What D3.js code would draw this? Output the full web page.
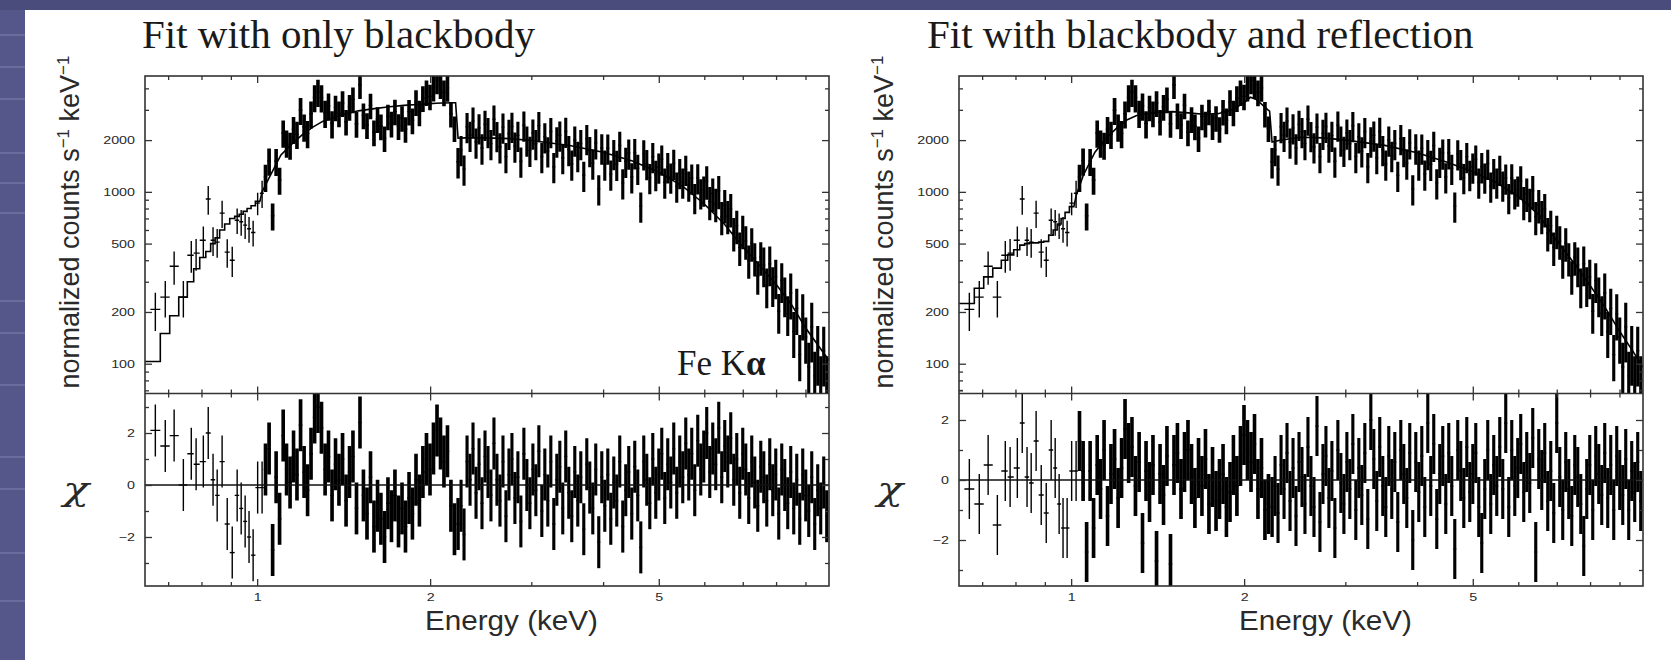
<!DOCTYPE html>
<html><head><meta charset="utf-8">
<script src="https://cdn.jsdelivr.net/npm/d3@7"></script>
<style>body{margin:0;background:#fff;}svg{display:block}</style>
</head><body>
<svg id="c" width="1671" height="660"></svg>
<script>
// ---------- data ----------
const energy = [
0.665,0.692,0.717,0.744,0.768,0.783,0.806,0.822,0.838,0.852,0.869,0.887,0.905,0.923,0.938,0.953,0.968,0.984,1.002,
1.020,1.034,1.049,1.064,1.079,1.094,1.110,1.125,1.141,1.157,1.173,1.190,1.207,1.224,1.241,1.259,1.276,1.294,1.313,1.331,
1.350,1.369,1.388,1.408,1.428,1.448,1.468,1.489,1.510,1.531,1.553,1.575,1.597,1.620,1.642,1.666,1.689,1.713,1.737,1.762,
1.787,1.812,1.838,1.863,1.890,1.916,1.943,1.971,1.999,2.027,2.056,2.085,2.114,2.144,2.174,2.205,
2.237,2.264,2.291,2.319,2.347,2.375,2.404,2.433,2.462,2.492,
2.522,2.552,2.583,2.614,2.646,2.678,2.710,2.743,2.776,2.809,
2.843,2.877,2.912,2.947,2.983,3.019,3.055,3.092,3.129,3.167,
3.205,3.244,3.283,3.323,3.363,3.403,3.444,3.486,3.528,3.571,
3.614,3.658,3.702,3.747,3.792,3.838,3.884,3.931,3.979,4.027,
4.076,4.125,4.175,4.225,4.276,4.328,4.380,4.433,4.487,4.541,
4.596,4.652,4.708,4.765,4.823,4.881,4.940,5.000,5.060,5.121,
5.183,5.246,5.309,5.373,5.438,5.504,5.571,5.638,5.706,5.775,
5.845,5.916,5.987,6.059,6.133,6.207,6.282,6.358,6.435,6.513,
6.592,6.671,6.752,6.834,6.916,7.000,7.085,7.170,7.257,7.345,
7.434,7.524,7.615,7.707,7.800,7.894,7.990,8.086,8.184,8.283,
8.383,8.484,8.587,8.691,8.796,8.902,9.010,9.119,9.229,9.340,
9.453,9.567,9.683,9.800];

const counts = [
207,244,369,244,428,440,523,908,523,510,752,446,400,684,670,640,610,580,860,
982,1219,1515,726,1507,1172,2201,1928,1873,2312,2165,2984,2387,2188,2845,3538,3804,3532,2870,3163,
2496,3101,2864,3288,2559,3125,3454,2490,4182,2787,2447,3185,2220,2652,2407,2053,2749,2499,2936,2416,
2693,2322,2928,2610,3329,2901,3515,3803,3593,4048,4451,4185,3793,4029,2851,2346,
1497,1759,1355,2394,2134,2579,1949,2357,1800,2468,
2243,1908,2646,2126,1829,2379,1602,2187,2401,1847,
2132,1508,2442,2000,1742,2199,1906,2429,1606,2090,
1730,2243,1401,1977,2136,1580,2246,1762,1451,2003,
1628,1910,1248,2041,1738,1471,1928,1041,1800,1448,
1795,1269,1669,1446,1862,1127,1507,1682,1221,1689,
1372,826,1664,1459,1210,1604,1262,1394,1550,1138,
1400,1219,1465,1080,1293,1138,1352,1093,1204,925,
1208,986,1024,1155,875,979,853,1015,716,839,
726,796,577,636,475,595,517,400,503,412,
323,417,376,284,382,289,320,202,305,252,
196,258,154,210,113,195,143,96,164,85,
120,80,119,80];

const errPct = [
25,24,22,24,21,21,20,19,19,19,18,19,20,17,17,17,17,17,15,
18,18,18,18,18,18,18,18,18,18,
18,18,18,18,18,18,18,18,18,18,
18,17,17,17,17,17,17,17,17,17,
17,17,17,17,17,17,17,17,17,17,
17,17,17,17,17,17,17,17,17,17,
17,17,17,17,17,17,
20,20,20,20,20,20,20,20,20,20,
20,20,20,20,20,20,20,20,20,20,
20,20,20,20,20,20,20,20,20,20,
20,20,20,20,20,20,20,20,20,20,
20,20,20,20,20,20,20,20,20,20,
20,20,20,20,20,20,20,20,20,20,
20,20,20,20,20,20,20,20,20,20,
20,20,20,20,20,20,20,20,20,20,
20,20,20,22,22,22,22,22,22,22,
22,22,22,22,22,22,22,22,22,22,
22,22,26,26,26,26,26,26,26,26,
26,30,30,30,30,30,30,38,38,38,
38,38,38,38];

const chiBlackbody = [
2.1,1.5,1.9,0.0,1.2,0.8,0.9,2.0,0.2,-0.4,0.9,-1.5,-2.6,-0.4,-0.9,-1.4,-2.0,-2.7,-0.1,
-0.1,0.6,1.4,-2.5,0.3,-1.3,1.9,0.6,0.1,1.1,
0.4,2.3,0.5,-0.2,1.2,2.6,3.0,2.2,0.6,1.1,
-0.4,0.8,0.2,1.0,-0.6,0.5,1.1,-0.9,2.4,-0.4,
-1.1,0.3,-1.6,-0.8,-1.3,-2.0,-0.7,-1.2,-0.4,-1.4,
-0.9,-1.6,-0.5,-1.1,0.2,-0.6,0.5,1.0,0.6,1.4,
2.1,1.6,0.9,1.3,-0.8,-1.7,
-1.5,-0.8,-1.9,0.9,0.2,1.4,-0.3,0.8,-0.7,1.1,
0.5,-0.4,1.6,0.2,-0.6,0.9,-1.2,0.4,1.0,-0.5,
0.3,-1.4,1.2,0.0,-0.7,0.6,-0.2,1.3,-1.0,0.4,
-0.6,0.9,-1.5,0.2,0.7,-0.9,1.1,-0.3,-1.2,0.5,
-0.6,0.3,-1.7,0.8,-0.1,-0.9,0.6,-2.2,0.3,-0.8,
0.4,-1.3,0.1,-0.6,0.9,-1.6,-0.2,0.5,-1.1,0.7,
-0.4,-2.4,0.9,0.2,-0.7,1.0,-0.3,0.4,1.2,-0.5,
0.8,0.1,1.4,-0.3,0.9,0.3,1.6,0.4,1.2,-0.2,
1.7,0.6,1.1,2.0,0.5,1.4,0.8,2.2,0.3,1.5,
0.9,1.8,0.2,1.0,-0.3,1.2,0.6,-0.5,0.9,0.1,
-0.8,0.7,0.3,-0.6,0.8,-0.2,0.4,-1.1,0.6,0.0,
-0.7,0.5,-0.9,0.2,-1.3,0.4,-0.4,-1.0,0.3,-1.5,
-0.2,-0.9,0.1,-1.2];

const chiReflection = [
-0.3,-0.8,0.5,-1.5,0.3,0.1,0.4,1.9,0.1,-0.1,1.3,-0.5,-1.1,1.0,0.4,-0.8,-1.6,-1.6,0.3,
0.3,1.3,0.3,-2.4,0.3,-1.6,0.5,-0.3,1.0,-1.2,
0.2,0.7,-0.6,0.4,1.7,0.9,1.1,-0.2,0.6,-2.1,
0.3,-0.4,0.5,-2.7,0.2,-0.5,0.8,-2.8,0.5,0.9,
-0.3,0.6,1.0,0.2,-0.6,0.4,-0.2,0.7,-0.8,0.1,
-0.7,-0.3,0.2,-0.9,-0.4,0.5,-0.2,0.8,1.5,1.0,
0.6,1.2,-0.3,0.4,-1.0,-0.8,
-0.9,-0.2,-1.1,0.5,-0.3,0.9,-0.7,0.4,-1.2,0.6,
0.1,-0.8,1.1,-0.2,-0.9,1.8,-1.4,0.2,0.8,-0.6,
0.3,-1.6,1.0,-0.1,-0.8,0.6,-0.3,1.2,-1.0,0.4,
-0.5,0.9,-1.3,2.0,0.7,-0.7,1.1,-0.2,-0.9,0.8,
-0.3,0.6,-1.4,1.0,0.2,-0.6,0.9,-2.0,0.6,-0.4,
0.8,-0.9,1.9,-0.2,1.2,-1.3,0.2,0.8,-0.8,0.9,
-0.2,-2.3,1.0,0.3,-0.6,1.1,-0.4,0.2,0.9,-0.9,
-2.1,-0.3,1.0,-0.8,0.5,-0.2,1.1,-0.3,1.9,-0.9,
1.0,-0.2,0.4,1.2,-0.4,0.6,-0.1,1.4,-2.4,0.7,
0.0,0.9,-0.7,0.3,-1.1,1.9,0.1,-1.0,0.6,-0.3,
-1.2,0.5,0.1,-0.8,-2.2,-0.3,0.5,-1.0,0.8,0.2,
-0.5,0.9,-0.6,0.5,-1.0,0.8,0.0,-0.5,0.7,-1.0,
0.3,-0.4,0.6,-0.7];

const modelEnergy = [
0.665,0.692,0.717,0.744,0.768,0.783,0.806,0.822,0.838,0.852,0.869,0.887,0.905,0.923,0.938,0.953,0.968,0.984,1.002,
1.02,1.05,1.1,1.15,1.2,1.25,1.3,1.4,1.5,1.6,
1.7,1.8,1.9,2.0,2.05,2.1,2.2,2.215,2.237,2.3,
2.5,2.75,3.0,3.5,4.0,4.5,5.0,5.5,6.0,6.5,
7.0,7.5,8.0,8.5,9.0,9.5,9.9];
const stepBins = 19;   // the model is drawn as a histogram over the wide low-energy bins

const modelBlackbody = [
103,150,190,244,300,357,415,450,500,540,600,650,700,720,740,770,800,830,880,
1000,1215,1640,1900,2160,2380,2570,2800,2960,3050,
3125,3185,3225,3260,3278,3290,3300,3300,2050,2060,
2060,2040,1990,1860,1700,1510,1300,1080,850,650,
480,370,290,222,162,126,104];

const modelReflection = [
224,275,320,360,400,430,460,490,500,505,505,510,515,560,600,650,700,760,820,
950,1250,1700,2050,2350,2620,2780,2900,2930,2880,
2830,2850,2980,3300,3550,3450,3000,2950,1950,1990,
2080,2060,2000,1870,1690,1490,1310,1130,940,740,
520,385,285,212,155,118,95];

const countTicks = [100,200,500,1000,2000];
const countMinor = [70,80,90,300,400,600,700,800,900,3000,4000];
const energyTicks = [1,2,5];
const energyMinor = [0.7,0.8,0.9,3,4,6,7,8,9];
const chiTicks = [-2,0,2];
const chiMinor = [-3,-1,1,3];
const titles = ["Fit with only blackbody","Fit with blackbody and reflection"];

// ---------- layout ----------
const W = 684, TOP = 76, MID = 393.5, BOT = 586;
const svg = d3.select("#c");
const defs = svg.append("defs");

svg.append("rect").attr("width",1671).attr("height",660).attr("fill","#fff");
svg.append("rect").attr("x",0).attr("y",0).attr("width",25).attr("height",660).attr("fill","#55578b");
svg.append("rect").attr("x",0).attr("y",0).attr("width",1671).attr("height",10).attr("fill","#4a4c7c");
[34,66,98,152,182,212,300,332,384,456,488,552,600].forEach(yy=>{
  svg.append("rect").attr("x",0).attr("y",yy).attr("width",25).attr("height",2).attr("fill","#7375a6").attr("opacity",0.7);
});

const x = d3.scaleLog().domain([0.638, 9.89]).range([0, W]);
const yC = d3.scaleLog().domain([67.1, 4721]).range([MID, TOP]);

const n = energy.length;
const lo = energy.map((e,i)=> i>0 ? Math.sqrt(energy[i-1]*e) : e*e/Math.sqrt(e*energy[1]));
const hi = energy.map((e,i)=> i<n-1 ? Math.sqrt(e*energy[i+1]) : e*e/Math.sqrt(energy[i-1]*e));
// narrow bins merge into a solid band as in the original; wide bins stay thin crosses
const sw = energy.map((e,i)=> { const w = x(hi[i])-x(lo[i]); return w < 3.7 ? w*1.04 : 1.4; });
const idx = d3.range(n);

const FONT = "'Liberation Sans', Arial, Helvetica, sans-serif";
const SERIF = "'Liberation Serif', 'Times New Roman', serif";
const INK = "#2a2a2a";

function drawPanel(ox, title, titleDx, model, chi, chiDom, showFe) {
  const g = svg.append("g").attr("transform", `translate(${ox},0)`);
  const id = "p" + ox;
  defs.append("clipPath").attr("id", id+"u").append("rect").attr("x",0).attr("y",TOP).attr("width",W).attr("height",MID-TOP);
  defs.append("clipPath").attr("id", id+"l").append("rect").attr("x",0).attr("y",MID).attr("width",W).attr("height",BOT-MID);
  const yChi = d3.scaleLinear().domain(chiDom).range([BOT, MID]);

  // upper: data crosses
  const up = g.append("g").attr("clip-path", `url(#${id}u)`).attr("stroke","#000");
  up.selectAll("line.v").data(idx).join("line").attr("class","v")
    .attr("stroke-width", i=>sw[i])
    .attr("x1", i=>x(energy[i])).attr("x2", i=>x(energy[i]))
    .attr("y1", i=>yC(counts[i]*(1+errPct[i]/100))).attr("y2", i=>yC(Math.max(1,counts[i]*(1-errPct[i]/100))));
  up.selectAll("line.h").data(idx).join("line").attr("class","h")
    .attr("stroke-width", 1.4)
    .attr("x1", i=>x(lo[i])).attr("x2", i=>x(hi[i]))
    .attr("y1", i=>yC(counts[i])).attr("y2", i=>yC(counts[i]));
  // model
  const pts = [];
  for (let i=0;i<modelEnergy.length;i++){
    if (i<stepBins){
      const a = i===0 ? x.domain()[0] : Math.sqrt(modelEnergy[i-1]*modelEnergy[i]);
      const b = Math.sqrt(modelEnergy[i]*modelEnergy[i+1]);
      pts.push([a, model[i]], [b, model[i]]);
    } else pts.push([modelEnergy[i], model[i]]);
  }
  up.append("path").attr("d", d3.line().x(d=>x(d[0])).y(d=>yC(d[1]))(pts))
    .attr("fill","none").attr("stroke","#000").attr("stroke-width",1.6);

  // lower: residuals
  const lw = g.append("g").attr("clip-path", `url(#${id}l)`).attr("stroke","#000");
  lw.selectAll("line.v").data(idx).join("line").attr("class","v")
    .attr("stroke-width", i=>sw[i])
    .attr("x1", i=>x(energy[i])).attr("x2", i=>x(energy[i]))
    .attr("y1", i=>yChi(chi[i]+1)).attr("y2", i=>yChi(chi[i]-1));
  lw.selectAll("line.h").data(idx).join("line").attr("class","h")
    .attr("stroke-width", 1.4)
    .attr("x1", i=>x(lo[i])).attr("x2", i=>x(hi[i]))
    .attr("y1", i=>yChi(chi[i])).attr("y2", i=>yChi(chi[i]));
  g.append("line").attr("x1",0).attr("x2",W).attr("y1",yChi(0)).attr("y2",yChi(0)).attr("stroke","#111").attr("stroke-width",1.5);

  // axes (inside ticks on all sides)
  function axis(gen, tx, ty, vals, size, labels, pad) {
    const a = g.append("g").attr("transform",`translate(${tx},${ty})`)
      .call(gen.tickValues(vals).tickSize(size).tickPadding(pad||0)
        .tickFormat(labels ? d3.format("d") : ""));
    a.select(".domain").remove();
    a.selectAll("line").attr("stroke","#333").attr("stroke-width",1.3);
    a.attr("font-family", FONT).attr("font-size", 11);
    a.selectAll("text").attr("fill", INK).attr("transform","scale(1.3,1)");
    return a;
  }
  axis(d3.axisLeft(yC), 0, 0, countTicks, -7, true, 7.7);
  axis(d3.axisLeft(yC), 0, 0, countMinor, -4, false);
  axis(d3.axisRight(yC), W, 0, countTicks, -7, false);
  axis(d3.axisRight(yC), W, 0, countMinor, -4, false);
  axis(d3.axisTop(x), 0, TOP, energyTicks, -7, false);
  axis(d3.axisTop(x), 0, TOP, energyMinor, -4, false);
  axis(d3.axisBottom(x), 0, MID, energyTicks, -7, false);
  axis(d3.axisBottom(x), 0, MID, energyMinor, -4, false);
  axis(d3.axisLeft(yChi), 0, 0, chiTicks, -7, true, 7.7);
  axis(d3.axisLeft(yChi), 0, 0, chiMinor, -4, false);
  axis(d3.axisRight(yChi), W, 0, chiTicks, -7, false);
  axis(d3.axisRight(yChi), W, 0, chiMinor, -4, false);
  axis(d3.axisTop(x), 0, MID, energyTicks, -7, false);
  axis(d3.axisTop(x), 0, MID, energyMinor, -4, false);
  axis(d3.axisBottom(x), 0, BOT, energyTicks, -7, true, 7);
  axis(d3.axisBottom(x), 0, BOT, energyMinor, -4, false);

  // frame
  g.append("rect").attr("x",0).attr("y",TOP).attr("width",W).attr("height",BOT-TOP)
    .attr("fill","none").attr("stroke","#333").attr("stroke-width",1.6);
  g.append("line").attr("x1",0).attr("x2",W).attr("y1",MID).attr("y2",MID).attr("stroke","#333").attr("stroke-width",1.6);

  // texts
  g.append("text").attr("x",titleDx).attr("y",48).attr("font-family",SERIF).attr("font-size",41)
    .attr("fill","#1a1a1a").text(title);

  const yl = g.append("text").attr("transform","translate(-66,222) rotate(-90)")
    .attr("text-anchor","middle").attr("font-family",FONT).attr("font-size",27).attr("fill",INK);
  yl.append("tspan").text("normalized counts s");
  yl.append("tspan").attr("font-size",17).attr("dy",-10).text("\u22121");
  yl.append("tspan").attr("dy",10).text(" keV");
  yl.append("tspan").attr("font-size",17).attr("dy",-10).text("\u22121");

  g.append("text").attr("transform","translate(-69,500) scale(1.35,1)").attr("text-anchor","middle")
    .attr("font-family","'DejaVu Serif', serif").attr("font-style","italic").attr("font-size",32).attr("fill",INK).text("\u03c7");

  g.append("text").attr("x",280).attr("y",630).attr("font-family",FONT).attr("font-size",28)
    .attr("fill",INK).attr("textLength",173).attr("lengthAdjust","spacingAndGlyphs").text("Energy (keV)");

  if (showFe) {
    const fe = g.append("text").attr("x",532).attr("y",375).attr("font-family",SERIF).attr("font-size",35).attr("fill","#1a1a1a");
    fe.append("tspan").text("Fe K");
    fe.append("tspan").attr("font-weight","bold").text("\u03b1");
  }
}

drawPanel(145, titles[0], -3, modelBlackbody, chiBlackbody, [-3.885, 3.52], true);
drawPanel(959, titles[1], -32, modelReflection, chiReflection, [-3.533, 2.883], false);
</script>
</body></html>
